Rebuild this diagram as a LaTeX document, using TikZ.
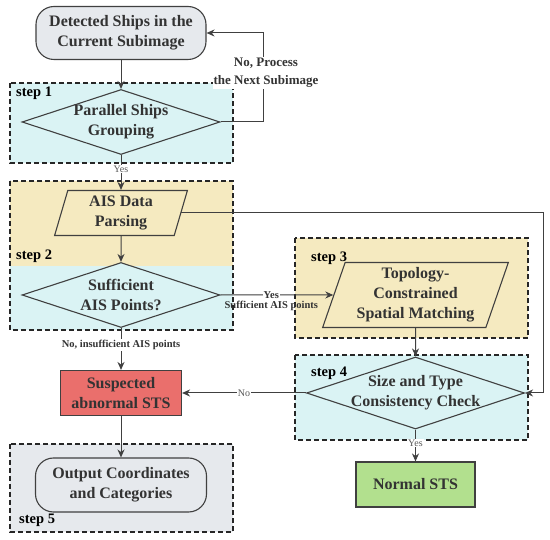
\documentclass[tikz,border=0pt]{standalone}
\usepackage{fontspec}
\setmainfont{Liberation Serif}
\usepackage{xcolor}
\usepackage{tikz}
\usetikzlibrary{arrows.meta, positioning, shapes.geometric, backgrounds, calc}

\definecolor{ink}{HTML}{333333}
\definecolor{edgegray}{HTML}{404040}
\definecolor{boxcyan}{HTML}{DAF3F4}
\definecolor{boxsand}{HTML}{F5EAC0}
\definecolor{boxgray}{HTML}{E6E9ED}
\definecolor{alarmred}{HTML}{EA6F6C}
\definecolor{okgreen}{HTML}{B2E08E}

\begin{document}
\begin{tikzpicture}[
			x=1pt, y=-1pt,
			every node/.style={font=\bfseries\fontsize{16}{20}\selectfont, text=ink},
			terminal/.style={
				rectangle, rounded corners=18pt,
				draw=edgegray, fill=boxgray, line width=1.1pt,
				minimum width=170pt, minimum height=53pt,
				inner sep=0pt, align=center
			},
			process/.style={
				rectangle, draw=edgegray, fill=#1, line width=1.1pt,
				inner sep=0pt, align=center
			},
			decision/.style={
				diamond, aspect=3, draw=edgegray, fill=boxcyan,
				line width=1.1pt, inner xsep=-10pt, inner ysep=-2pt,
				align=center
			},
			io/.style={
				trapezium, trapezium stretches=true,
				draw=edgegray, fill=boxsand, line width=1.1pt,
				inner sep=0pt, align=center
			},
			arrow/.style={
				-{Stealth[length=8pt,width=7pt]},
				line width=1pt, draw=edgegray
			},
			stepframe/.style={
				dash pattern=on 5pt off 3pt, line width=1.5pt, draw=black!85
			},
			steplabel/.style={
				font=\bfseries\fontsize{14.5}{17}\selectfont, text=black,
				anchor=west, inner sep=0pt
			},
			edgelabel/.style={
				font=\fontsize{10}{12}\selectfont, text=black!65,
				fill=white, inner sep=1pt
			},
			notelabel/.style={
				font=\bfseries\fontsize{10.5}{13}\selectfont, text=ink,
				align=center, inner sep=1pt
			}
			]
			
			\useasboundingbox (0,0) rectangle (550,540);
			
			% Left column
			\node[terminal] (det) at (121,33) {Detected Ships in the\\Current Subimage};
			\node[decision, minimum width=198pt, minimum height=65pt] (grp) at (121,122) {Parallel Ships\\Grouping};
			\node[io, trapezium left angle=77, trapezium right angle=103,
			minimum width=133pt, minimum height=45pt] (ais) at (121,213) {AIS Data\\Parsing};
			\node[decision, minimum width=198pt, minimum height=65pt] (suf) at (121,295) {Sufficient\\AIS Points?};
			\node[process=alarmred, minimum width=121pt, minimum height=45pt] (sus) at (121,393) {Suspected\\abnormal STS};
			\node[terminal, minimum width=171pt, minimum height=54pt] (out) at (121,485) {Output Coordinates\\and Categories};
			
			% Right column
			\node[io, trapezium left angle=71, trapezium right angle=109,
			minimum width=186pt, minimum height=65pt] (tpm) at (415.5,295) {Topology-\\Constrained\\Spatial Matching};
			\node[decision, minimum width=218pt, minimum height=72pt] (chk) at (415.5,393) {Size and Type\\Consistency Check};
			\node[process=okgreen, minimum width=119pt, minimum height=45pt] (nrm) at (415.5,484.5) {Normal STS};
			
			% Step labels
			\node[steplabel] (s1) at (16,93)  {step 1};
			\node[steplabel] (s2) at (16,256) {step 2};
			\node[steplabel] (s3) at (311,258) {step 3};
			\node[steplabel] (s4) at (311,373) {step 4};
			\node[steplabel] (s5) at (19,520) {step 5};
			
			% Arrows
			\coordinate (back) at (263,0);
			\coordinate (rgt) at (543,0);
			\draw[arrow] (det) -- (grp);
			\draw[arrow] (grp.east) -- (grp.east -| back) |- (det.east);
			\node[notelabel, fill=white, font=\bfseries\fontsize{13}{18}\selectfont] (nxt) at (266,73) {No, Process\\the Next Subimage};
			\draw[arrow] (grp) -- node[edgelabel, pos=0.4] (y1) {Yes} (ais);
			\draw[arrow] (ais) -- (suf);
			\draw[arrow] (ais.east) -- (ais.east -| rgt) |- (chk.east);
			\draw[arrow] (suf) -- node[notelabel, fill=white, pos=0.45] (y2) {Yes}
			node[notelabel, pos=0.45, anchor=north, yshift=-5pt] (enough) {Sufficient AIS points} (tpm);
			\draw[arrow] (suf) -- node[notelabel, fill=white, pos=0.41] (few) {No, insufficient AIS points} (sus);
			\draw[arrow] (tpm) -- (chk);
			\draw[arrow] (chk) -- node[edgelabel] (n1) {No} (sus);
			\draw[arrow] (chk) -- node[edgelabel, pos=0.42] (y3) {Yes} (nrm);
			\draw[arrow] (sus) -- (out);
			
			% Step backgrounds
			\begin{scope}[on background layer]
				\fill[white] (0,0) rectangle (550,540);
				\fill[boxcyan] (10,83) rectangle (233,163);
				\fill[boxsand] (10,181) rectangle (233,266);
				\fill[boxcyan] (10,266) rectangle (233,330);
				\fill[boxsand] (295,238) rectangle (528,338);
				\fill[boxcyan] (295,355) rectangle (528,440);
				\fill[boxgray] (10,444) rectangle (233,532);
				\foreach \xa/\ya/\xb/\yb in {10/83/233/163, 10/181/233/330, 295/238/528/338, 295/355/528/440, 10/444/233/532}
				\draw[stepframe] (\xa,\ya) rectangle (\xb,\yb);
			\end{scope}
			
		\end{tikzpicture}
\end{document}
